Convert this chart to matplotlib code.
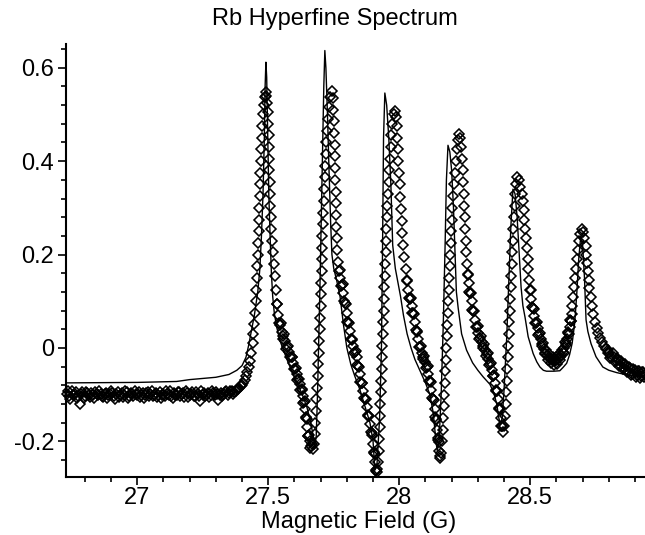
"""Rb hyperfine spectrum: measured points and fitted curve."""
import matplotlib
matplotlib.use("Agg")
import matplotlib.pyplot as plt
import numpy as np
from matplotlib.ticker import MultipleLocator

# measured spectrum (field in G, signal)
data_points = [
    (26.73, -0.098), (26.74, -0.104), (26.75, -0.093), (26.76, -0.101), (26.77, -0.108),
    (26.78, -0.121), (26.785, -0.099), (26.79, -0.095), (26.80, -0.103), (26.81, -0.097),
    (26.82, -0.106), (26.83, -0.100), (26.84, -0.094), (26.85, -0.102), (26.86, -0.098),
    (26.87, -0.105), (26.88, -0.096), (26.89, -0.101), (26.90, -0.093), (26.91, -0.104),
    (26.92, -0.099), (26.93, -0.106), (26.94, -0.097), (26.95, -0.101), (26.96, -0.095),
    (26.97, -0.103), (26.98, -0.098), (26.99, -0.092), (27.00, -0.100), (27.01, -0.105),
    (27.02, -0.097), (27.03, -0.102), (27.04, -0.094), (27.05, -0.099), (27.06, -0.104),
    (27.07, -0.096), (27.08, -0.101), (27.09, -0.107), (27.10, -0.098), (27.11, -0.093),
    (27.12, -0.100), (27.13, -0.104), (27.14, -0.097), (27.15, -0.102), (27.16, -0.095),
    (27.17, -0.099), (27.18, -0.105), (27.19, -0.096), (27.20, -0.101), (27.21, -0.094),
    (27.22, -0.103), (27.23, -0.098), (27.24, -0.113), (27.245, -0.092), (27.25, -0.100),
    (27.26, -0.104), (27.27, -0.096), (27.28, -0.101), (27.29, -0.097), (27.30, -0.094),
    (27.31, -0.112), (27.315, -0.100), (27.32, -0.096), (27.33, -0.099), (27.34, -0.093),
    (27.35, -0.097), (27.36, -0.092), (27.37, -0.095), (27.38, -0.089), (27.39, -0.085),
    (27.40, -0.079), (27.405, -0.075), (27.41, -0.068), (27.415, -0.060), (27.42, -0.052),
    (27.425, -0.042), (27.43, -0.028), (27.435, -0.012), (27.44, 0.010), (27.443, 0.030),
    (27.446, 0.052), (27.449, 0.075), (27.452, 0.100), (27.454, 0.125), (27.456, 0.150),
    (27.458, 0.175), (27.460, 0.200), (27.461, 0.225), (27.463, 0.250), (27.464, 0.275),
    (27.466, 0.300), (27.467, 0.325), (27.469, 0.350), (27.470, 0.375), (27.472, 0.400),
    (27.474, 0.425), (27.476, 0.450), (27.478, 0.475), (27.481, 0.500), (27.484, 0.520),
    (27.487, 0.538), (27.490, 0.548), (27.493, 0.540), (27.496, 0.525), (27.498, 0.505),
    (27.500, 0.480), (27.501, 0.455), (27.502, 0.430), (27.503, 0.405), (27.504, 0.380),
    (27.505, 0.355), (27.506, 0.330), (27.507, 0.305), (27.509, 0.280), (27.511, 0.255),
    (27.514, 0.230), (27.518, 0.205), (27.522, 0.180), (27.526, 0.155), (27.529, 0.125),
    (27.532, 0.095), (27.537, 0.070), (27.545, 0.050), (27.552, 0.035), (27.558, 0.025),
    (27.564, 0.014), (27.572, 0.002), (27.580, -0.008), (27.589, -0.020), (27.596, -0.033),
    (27.602, -0.045), (27.608, -0.056), (27.614, -0.067), (27.620, -0.078), (27.627, -0.090),
    (27.632, -0.103), (27.637, -0.116), (27.641, -0.130), (27.645, -0.150), (27.649, -0.170),
    (27.653, -0.188), (27.658, -0.200), (27.664, -0.210), (27.670, -0.216), (27.674, -0.205),
    (27.677, -0.185), (27.680, -0.160), (27.682, -0.135), (27.684, -0.110), (27.686, -0.085),
    (27.688, -0.060), (27.690, -0.035), (27.692, -0.010), (27.694, 0.015), (27.696, 0.040),
    (27.698, 0.065), (27.700, 0.090), (27.701, 0.115), (27.702, 0.140), (27.704, 0.165),
    (27.705, 0.190), (27.706, 0.215), (27.707, 0.240), (27.708, 0.265), (27.710, 0.290),
    (27.711, 0.315), (27.713, 0.340), (27.715, 0.365), (27.717, 0.390), (27.719, 0.415),
    (27.722, 0.440), (27.725, 0.465), (27.728, 0.490), (27.732, 0.515), (27.737, 0.538),
    (27.742, 0.551), (27.746, 0.535), (27.749, 0.510), (27.751, 0.485), (27.752, 0.460),
    (27.753, 0.435), (27.754, 0.410), (27.755, 0.385), (27.756, 0.360), (27.757, 0.335),
    (27.758, 0.310), (27.759, 0.285), (27.760, 0.260), (27.761, 0.235), (27.763, 0.210),
    (27.766, 0.185), (27.770, 0.165), (27.774, 0.150), (27.780, 0.135), (27.787, 0.118),
    (27.793, 0.096), (27.799, 0.074), (27.805, 0.055), (27.811, 0.036), (27.818, 0.016),
    (27.825, 0.003), (27.831, -0.008), (27.837, -0.020), (27.843, -0.038), (27.849, -0.057),
    (27.856, -0.076), (27.862, -0.092), (27.869, -0.109), (27.876, -0.126), (27.882, -0.145),
    (27.889, -0.164), (27.895, -0.183), (27.900, -0.205), (27.904, -0.225), (27.908, -0.245),
    (27.912, -0.262), (27.916, -0.265), (27.919, -0.245), (27.921, -0.220), (27.923, -0.195),
    (27.925, -0.170), (27.927, -0.145), (27.928, -0.120), (27.930, -0.095), (27.931, -0.070),
    (27.933, -0.045), (27.934, -0.020), (27.936, 0.005), (27.937, 0.030), (27.939, 0.055),
    (27.940, 0.080), (27.942, 0.105), (27.943, 0.130), (27.945, 0.155), (27.946, 0.180),
    (27.948, 0.205), (27.949, 0.230), (27.951, 0.255), (27.953, 0.280), (27.955, 0.305),
    (27.957, 0.330), (27.959, 0.355), (27.961, 0.380), (27.964, 0.405), (27.967, 0.430),
    (27.970, 0.455), (27.974, 0.480), (27.979, 0.500), (27.984, 0.508), (27.988, 0.495),
    (27.991, 0.475), (27.993, 0.450), (27.995, 0.425), (27.997, 0.400), (27.999, 0.375),
    (28.001, 0.350), (28.003, 0.323), (28.006, 0.298), (28.009, 0.272), (28.012, 0.246),
    (28.016, 0.220), (28.020, 0.195), (28.024, 0.170), (28.028, 0.145), (28.034, 0.125),
    (28.041, 0.105), (28.047, 0.090), (28.053, 0.074), (28.060, 0.055), (28.066, 0.036),
    (28.073, 0.018), (28.079, 0.002), (28.086, -0.010), (28.092, -0.020), (28.099, -0.030),
    (28.105, -0.040), (28.111, -0.055), (28.117, -0.072), (28.123, -0.090), (28.129, -0.110),
    (28.135, -0.130), (28.140, -0.152), (28.145, -0.175), (28.149, -0.198), (28.153, -0.220),
    (28.157, -0.236), (28.161, -0.225), (28.164, -0.200), (28.166, -0.175), (28.168, -0.150),
    (28.170, -0.125), (28.172, -0.100), (28.174, -0.075), (28.176, -0.050), (28.177, -0.025),
    (28.179, 0.000), (28.181, 0.025), (28.183, 0.050), (28.185, 0.075), (28.187, 0.100),
    (28.189, 0.125), (28.191, 0.150), (28.193, 0.175), (28.195, 0.200), (28.197, 0.225),
    (28.199, 0.250), (28.201, 0.275), (28.203, 0.300), (28.206, 0.325), (28.209, 0.350),
    (28.212, 0.375), (28.215, 0.400), (28.219, 0.425), (28.223, 0.445), (28.228, 0.459),
    (28.233, 0.450), (28.237, 0.430), (28.240, 0.405), (28.242, 0.380), (28.244, 0.355),
    (28.246, 0.330), (28.248, 0.305), (28.250, 0.280), (28.252, 0.255), (28.254, 0.230),
    (28.256, 0.205), (28.258, 0.180), (28.261, 0.158), (28.265, 0.138), (28.270, 0.118),
    (28.276, 0.100), (28.282, 0.080), (28.289, 0.060), (28.296, 0.045), (28.302, 0.032),
    (28.308, 0.022), (28.315, 0.012), (28.321, 0.004), (28.328, -0.005), (28.334, -0.014),
    (28.340, -0.024), (28.347, -0.035), (28.353, -0.047), (28.359, -0.060), (28.365, -0.075),
    (28.371, -0.092), (28.377, -0.110), (28.382, -0.130), (28.387, -0.150), (28.392, -0.168),
    (28.397, -0.180), (28.401, -0.168), (28.404, -0.145), (28.406, -0.120), (28.408, -0.095),
    (28.410, -0.070), (28.412, -0.045), (28.414, -0.020), (28.416, 0.005), (28.418, 0.030),
    (28.420, 0.055), (28.422, 0.080), (28.424, 0.105), (28.426, 0.130), (28.428, 0.155),
    (28.430, 0.180), (28.432, 0.205), (28.434, 0.230), (28.436, 0.255), (28.438, 0.280),
    (28.440, 0.305), (28.442, 0.330), (28.445, 0.350), (28.450, 0.366), (28.456, 0.360),
    (28.462, 0.345), (28.467, 0.330), (28.471, 0.315), (28.475, 0.295), (28.478, 0.275),
    (28.481, 0.255), (28.484, 0.235), (28.487, 0.215), (28.490, 0.190), (28.493, 0.168),
    (28.496, 0.145), (28.499, 0.125), (28.504, 0.105), (28.510, 0.085), (28.516, 0.068),
    (28.522, 0.054), (28.528, 0.042), (28.534, 0.030), (28.540, 0.018), (28.546, 0.008),
    (28.552, -0.002), (28.558, -0.010), (28.564, -0.016), (28.570, -0.020), (28.576, -0.023),
    (28.582, -0.026), (28.588, -0.027), (28.594, -0.028), (28.600, -0.027), (28.606, -0.024),
    (28.612, -0.020), (28.618, -0.015), (28.624, -0.008), (28.630, 0.000), (28.636, 0.010),
    (28.641, 0.020), (28.646, 0.032), (28.650, 0.045), (28.654, 0.058), (28.658, 0.072),
    (28.661, 0.090), (28.664, 0.110), (28.667, 0.130), (28.670, 0.150), (28.674, 0.170),
    (28.678, 0.190), (28.682, 0.210), (28.686, 0.230), (28.690, 0.245), (28.696, 0.255),
    (28.702, 0.248), (28.707, 0.235), (28.711, 0.218), (28.714, 0.200), (28.717, 0.182),
    (28.720, 0.164), (28.723, 0.146), (28.726, 0.128), (28.730, 0.110), (28.735, 0.090),
    (28.741, 0.072), (28.747, 0.056), (28.753, 0.043), (28.760, 0.031), (28.767, 0.021),
    (28.774, 0.012), (28.781, 0.004), (28.788, -0.003), (28.795, -0.010), (28.802, -0.011),
    (28.810, -0.020), (28.818, -0.019), (28.826, -0.029), (28.834, -0.027), (28.842, -0.037),
    (28.850, -0.033), (28.858, -0.044), (28.866, -0.038), (28.874, -0.050), (28.882, -0.043),
    (28.890, -0.055), (28.898, -0.048), (28.906, -0.058), (28.914, -0.050), (28.922, -0.060),
    (28.930, -0.052), (28.938, -0.058),
]

# points from the second, overlapping sweep (seen as the thicker bands)
data_points_sweep2 = [
    (26.735, -0.092), (26.745, -0.109), (26.755, -0.100), (26.765, -0.095), (26.775, -0.103),
    (26.795, -0.108), (26.805, -0.094), (26.815, -0.101), (26.825, -0.096), (26.835, -0.107),
    (26.845, -0.099), (26.855, -0.092), (26.865, -0.104), (26.875, -0.098), (26.885, -0.108),
    (26.895, -0.099), (26.905, -0.096), (26.915, -0.109), (26.925, -0.094), (26.935, -0.101),
    (26.945, -0.105), (26.955, -0.093), (26.965, -0.107), (26.975, -0.096), (26.985, -0.104),
    (26.995, -0.098), (27.005, -0.094), (27.015, -0.100), (27.025, -0.108), (27.035, -0.096),
    (27.045, -0.103), (27.055, -0.093), (27.065, -0.100), (27.075, -0.106), (27.085, -0.095),
    (27.095, -0.101), (27.105, -0.104), (27.115, -0.098), (27.125, -0.092), (27.135, -0.107),
    (27.145, -0.100), (27.155, -0.094), (27.165, -0.104), (27.175, -0.097), (27.185, -0.092),
    (27.195, -0.106), (27.205, -0.098), (27.215, -0.103), (27.225, -0.095), (27.235, -0.104),
    (27.255, -0.096), (27.265, -0.100), (27.275, -0.106), (27.285, -0.093), (27.295, -0.102),
    (27.305, -0.098), (27.325, -0.103), (27.335, -0.095), (27.345, -0.100), (27.355, -0.092),
    (27.365, -0.099), (27.375, -0.093), (27.385, -0.088), (27.395, -0.081),
    (27.535, 0.093), (27.541, 0.054), (27.548, 0.053), (27.555, 0.020), (27.561, 0.029),
    (27.568, -0.002), (27.576, 0.004), (27.584, -0.020), (27.592, -0.020), (27.599, -0.046),
    (27.605, -0.044), (27.611, -0.068), (27.617, -0.066), (27.623, -0.091), (27.630, -0.089),
    (27.634, -0.118), (27.639, -0.114), (27.643, -0.149), (27.647, -0.152), (27.651, -0.188),
    (27.655, -0.187), (27.661, -0.214), (27.667, -0.206),
    (27.772, 0.166), (27.777, 0.132), (27.784, 0.136), (27.790, 0.100), (27.796, 0.093),
    (27.802, 0.056), (27.808, 0.054), (27.814, 0.018), (27.821, 0.018), (27.828, -0.010),
    (27.834, -0.006), (27.840, -0.036), (27.846, -0.040), (27.852, -0.074), (27.859, -0.076),
    (27.865, -0.108), (27.872, -0.110), (27.879, -0.143), (27.885, -0.147), (27.892, -0.181),
    (27.897, -0.186), (27.902, -0.223), (27.906, -0.227), (27.910, -0.263), (27.914, -0.260),
    (28.031, 0.143), (28.037, 0.107), (28.044, 0.106), (28.050, 0.074), (28.056, 0.073),
    (28.063, 0.038), (28.069, 0.035), (28.076, 0.002), (28.082, 0.004), (28.089, -0.023),
    (28.095, -0.017), (28.102, -0.043), (28.108, -0.039), (28.114, -0.071), (28.120, -0.073),
    (28.126, -0.108), (28.132, -0.112), (28.137, -0.149), (28.142, -0.155), (28.147, -0.194),
    (28.151, -0.201), (28.155, -0.232),
    (28.263, 0.156), (28.267, 0.120), (28.273, 0.117), (28.279, 0.082), (28.285, 0.078),
    (28.292, 0.044), (28.299, 0.046), (28.305, 0.019), (28.311, 0.025), (28.318, 0.000),
    (28.324, 0.008), (28.331, -0.017), (28.337, -0.011), (28.343, -0.037), (28.350, -0.033),
    (28.356, -0.061), (28.362, -0.059), (28.368, -0.091), (28.374, -0.093), (28.379, -0.128),
    (28.384, -0.132), (28.389, -0.168), (28.394, -0.167),
    (28.502, 0.123), (28.507, 0.087), (28.513, 0.084), (28.519, 0.053), (28.525, 0.056),
    (28.531, 0.028), (28.537, 0.032), (28.543, 0.005), (28.549, 0.011), (28.555, -0.014),
    (28.561, -0.005), (28.567, -0.026), (28.573, -0.014), (28.579, -0.033), (28.585, -0.019),
    (28.591, -0.036), (28.597, -0.020), (28.603, -0.034), (28.609, -0.014), (28.615, -0.026),
    (28.621, -0.004), (28.627, -0.012), (28.633, 0.013), (28.638, 0.007), (28.644, 0.034),
    (28.648, 0.030), (28.652, 0.059), (28.656, 0.057),
    (28.798, -0.004), (28.806, -0.021), (28.814, -0.012), (28.822, -0.030), (28.830, -0.021),
    (28.838, -0.038), (28.846, -0.028), (28.854, -0.046), (28.862, -0.034), (28.870, -0.052),
    (28.878, -0.041), (28.886, -0.058), (28.894, -0.046), (28.902, -0.062), (28.910, -0.050),
    (28.918, -0.064), (28.926, -0.052), (28.934, -0.063),
]

# fitted curve
fit_points = [
    (26.73, -0.075), (27.00, -0.074), (27.15, -0.072), (27.20, -0.068), (27.30, -0.063),
    (27.35, -0.057), (27.38, -0.048), (27.40, -0.038), (27.415, -0.020), (27.425, 0.005),
    (27.435, 0.035), (27.447, 0.070), (27.460, 0.120), (27.468, 0.170), (27.474, 0.240),
    (27.480, 0.330), (27.485, 0.450), (27.488, 0.560), (27.491, 0.612), (27.494, 0.580),
    (27.498, 0.450), (27.502, 0.330), (27.507, 0.240), (27.512, 0.160), (27.517, 0.110),
    (27.523, 0.075), (27.532, 0.045), (27.545, 0.015), (27.560, -0.008), (27.575, -0.030),
    (27.590, -0.050), (27.610, -0.075), (27.630, -0.100), (27.648, -0.128), (27.662, -0.160),
    (27.672, -0.190), (27.678, -0.210), (27.683, -0.190), (27.688, -0.100), (27.693, 0.020),
    (27.698, 0.150), (27.703, 0.300), (27.708, 0.450), (27.712, 0.560), (27.716, 0.637),
    (27.720, 0.600), (27.726, 0.500), (27.732, 0.380), (27.738, 0.270), (27.743, 0.200),
    (27.750, 0.170), (27.761, 0.145), (27.774, 0.110), (27.787, 0.050), (27.800, 0.000),
    (27.815, -0.035), (27.830, -0.060), (27.850, -0.090), (27.869, -0.125), (27.888, -0.160),
    (27.900, -0.200), (27.907, -0.262), (27.915, -0.250), (27.925, -0.150), (27.932, 0.000),
    (27.936, 0.200), (27.940, 0.450), (27.945, 0.546), (27.952, 0.520), (27.960, 0.450),
    (27.968, 0.350), (27.975, 0.220), (27.985, 0.170), (27.995, 0.140), (28.005, 0.110),
    (28.016, 0.070), (28.030, 0.030), (28.045, 0.000), (28.060, -0.025), (28.080, -0.050),
    (28.100, -0.075), (28.117, -0.100), (28.130, -0.140), (28.140, -0.200), (28.145, -0.220),
    (28.152, -0.200), (28.160, -0.100), (28.168, 0.050), (28.175, 0.220), (28.180, 0.360),
    (28.186, 0.434), (28.193, 0.420), (28.200, 0.380), (28.207, 0.300), (28.213, 0.200),
    (28.218, 0.120), (28.225, 0.085), (28.238, 0.030), (28.257, -0.005), (28.280, -0.032),
    (28.300, -0.048), (28.320, -0.062), (28.346, -0.078), (28.360, -0.095), (28.372, -0.120),
    (28.380, -0.150), (28.386, -0.165), (28.393, -0.150), (28.400, -0.090), (28.410, 0.020),
    (28.418, 0.140), (28.426, 0.260), (28.434, 0.340), (28.442, 0.330), (28.450, 0.280),
    (28.458, 0.200), (28.465, 0.130), (28.472, 0.090), (28.480, 0.066), (28.492, 0.024),
    (28.511, -0.012), (28.525, -0.030), (28.537, -0.041), (28.550, -0.048), (28.562, -0.050),
    (28.590, -0.050), (28.613, -0.049), (28.625, -0.042), (28.639, -0.033), (28.650, -0.015),
    (28.660, 0.010), (28.670, 0.055), (28.678, 0.120), (28.685, 0.190), (28.692, 0.235),
    (28.700, 0.220), (28.707, 0.150), (28.713, 0.060), (28.720, 0.035), (28.732, 0.009),
    (28.751, -0.019), (28.777, -0.041), (28.800, -0.048), (28.830, -0.053), (28.870, -0.058),
    (28.940, -0.063),
]

x_ticks = [27, 27.5, 28, 28.5]
x_tick_labels = ["27", "27.5", "28", "28.5"]
y_ticks = [-0.2, 0, 0.2, 0.4, 0.6]
y_tick_labels = ["-0.2", "0", "0.2", "0.4", "0.6"]

plt.rcParams["font.family"] = ["Liberation Sans", "DejaVu Sans"]

W, H = 645, 535
fig = plt.figure(figsize=(W / 100, H / 100), dpi=100)
ax = fig.add_axes([66 / W, (H - 476.7) / H, 1 - 66 / W, (476.7 - 44) / H])

marker_style = dict(linestyle="none", marker="D", markersize=5.0,
                    markerfacecolor="none", markeredgecolor="black",
                    markeredgewidth=1.15, clip_on=False)
for pts in (data_points, data_points_sweep2):
    px, py = np.array(pts).T
    ax.plot(px, py, **marker_style)

fx, fy = np.array(fit_points).T
ax.plot(fx, fy, color="black", linewidth=1.0)

ax.set_xlim(26.728, 28.938)
ax.set_ylim(-0.276, 0.651)

for side in ("top", "right"):
    ax.spines[side].set_visible(False)
for side in ("left", "bottom"):
    ax.spines[side].set_linewidth(1.5)

ax.set_xticks(x_ticks)
ax.set_xticklabels(x_tick_labels)
ax.set_yticks(y_ticks)
ax.set_yticklabels(y_tick_labels)
ax.xaxis.set_minor_locator(MultipleLocator(0.1))
ax.yaxis.set_minor_locator(MultipleLocator(0.04))
ax.tick_params(which="major", length=5.5, width=1.2, labelsize=17, pad=2)
ax.tick_params(which="minor", length=3.5, width=1.2)
ax.tick_params(axis="y", which="major", pad=3)

fig.text(335 / W, (H - 25) / H, "Rb Hyperfine Spectrum", ha="center",
         va="baseline", fontsize=17)
fig.text(359 / W, (H - 528) / H, "Magnetic Field (G)", ha="center",
         va="baseline", fontsize=17)

fig.savefig("out.png", dpi=100)
